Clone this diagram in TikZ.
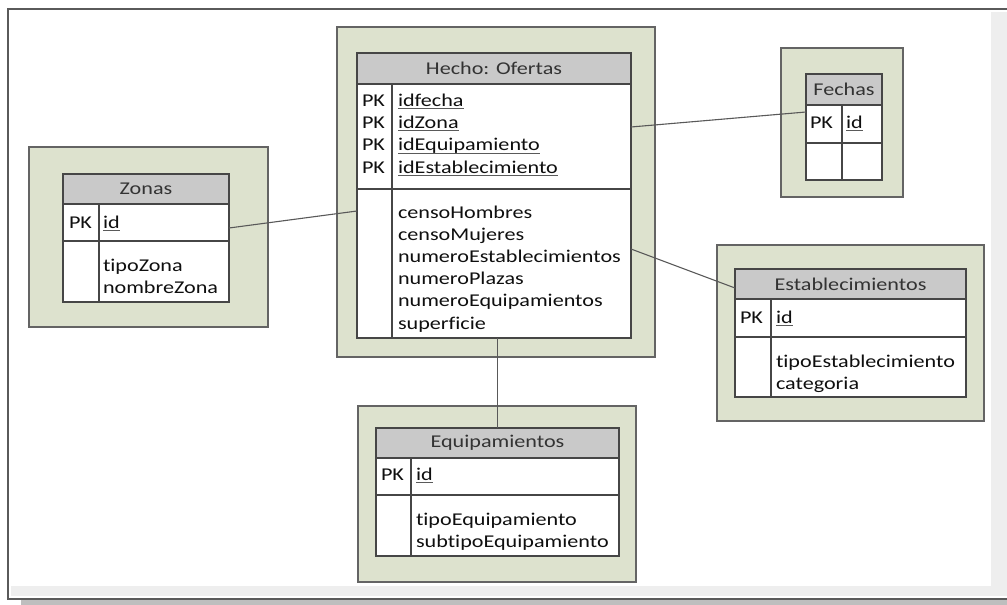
\documentclass[tikz,border=0pt]{standalone}
\usepackage{fontspec}
\newfontfamily\diafont[FakeStretch=1.23,Ligatures=NoCommon]{Carlito}
\definecolor{boxgreen}{RGB}{221,226,206}
\definecolor{boxedge}{RGB}{100,100,100}
\definecolor{tableedge}{RGB}{70,70,70}
\definecolor{headgray}{RGB}{201,201,201}
\definecolor{pagegray}{RGB}{238,238,238}
\definecolor{shadowgray}{RGB}{190,190,190}
\definecolor{framegray}{RGB}{90,90,90}
\definecolor{textdark}{RGB}{15,15,15}
\definecolor{ulgray}{RGB}{90,90,90}
% underlined key attribute, rule just below the baseline
\newcommand\keyattr[1]{\setbox0\hbox{#1}\rlap{\color{ulgray}\rule[-2.6pt]{\wd0}{0.9pt}}\box0}
% one text node per line, 22.2 units apart
\newcommand\fieldrows[4]{%
  \foreach \t [count=\i] in {#4}
    \node[fieldtxt] (#1\i) at (#2,{#3+(\i-1)*22.2}) {\t};}
\begin{document}
\begin{tikzpicture}[x=1pt,y=-1pt,
  outerbox/.style={draw=boxedge,fill=boxgreen,line width=1.2pt,anchor=north west,inner sep=0pt,outer sep=0pt},
  tablebox/.style={draw=tableedge,fill=white,line width=1.2pt,anchor=north west,inner sep=0pt,outer sep=0pt},
  headbox/.style={draw=tableedge,fill=headgray,line width=1.2pt,anchor=north west,inner sep=0pt,outer sep=0pt,
    font=\diafont\fontsize{18}{22}\selectfont,text=textdark!85},
  rule/.style={draw=tableedge,line width=1.2pt},
  fieldtxt/.style={anchor=base west,inner sep=0pt,outer sep=0pt,font=\diafont\fontsize{18}{22}\selectfont,text=textdark},
  link/.style={draw=tableedge!90,line width=1.1pt}]
\useasboundingbox (0,0) rectangle (1007,605);
\fill[white] (0,0) rectangle (1007,605);

% page edges
\fill[pagegray] (991,12) rectangle (1007,596);
\fill[pagegray] (11,586) rectangle (1007,596);
\fill[shadowgray] (21,600) rectangle (1007,605);
\draw[framegray,line width=2pt] (1007,9) -- (8,9) -- (8,599) -- (1007,599);

% ---- Hecho: Ofertas ----
\node[outerbox,minimum width=318pt,minimum height=330pt] (hechoO) at (337,27) {};
\node[tablebox,minimum width=274pt,minimum height=285pt] (hecho) at (357,53) {};
\node[headbox,minimum width=274pt,minimum height=31pt] (hechoH) at (357,53) {Hecho: Ofertas};
\draw[rule] (357,189) -- (631,189);
\draw[rule] (392,84) -- (392,338);
\fieldrows{hechoK}{362}{106.5}{PK,PK,PK,PK}
\fieldrows{hechoF}{398}{106.5}{{\keyattr{idfecha}},{\keyattr{idZona}},{\keyattr{idEquipamiento}},{\keyattr{idEstablecimiento}}}
\fieldrows{hechoA}{398}{218}{censoHombres,censoMujeres,numeroEstablecimientos,numeroPlazas,numeroEquipamientos,superficie}

% ---- Zonas ----
\node[outerbox,minimum width=239pt,minimum height=180pt] (zonasO) at (29,147) {};
\node[tablebox,minimum width=166pt,minimum height=128pt] (zonas) at (63,174) {};
\node[headbox,minimum width=166pt,minimum height=30pt] (zonasH) at (63,174) {Zonas};
\draw[rule] (63,241) -- (229,241);
\draw[rule] (99,204) -- (99,302);
\fieldrows{zonasK}{69}{228}{PK}
\fieldrows{zonasF}{103}{228}{{\keyattr{id}}}
\fieldrows{zonasA}{103}{271}{tipoZona,nombreZona}

% ---- Fechas ----
\node[outerbox,minimum width=122pt,minimum height=149pt] (fechasO) at (781,48) {};
\node[tablebox,minimum width=76pt,minimum height=106pt] (fechas) at (806,74) {};
\node[headbox,minimum width=76pt,minimum height=31pt] (fechasH) at (806,74) {Fechas};
\draw[rule] (806,143) -- (882,143);
\draw[rule] (842,105) -- (842,180);
\fieldrows{fechasK}{810}{128}{PK}
\fieldrows{fechasF}{846}{128}{{\keyattr{id}}}

% ---- Establecimientos ----
\node[outerbox,minimum width=267pt,minimum height=176pt] (estabO) at (717,245) {};
\node[tablebox,minimum width=231pt,minimum height=128pt] (estab) at (735,269) {};
\node[headbox,minimum width=231pt,minimum height=30pt] (estabH) at (735,269) {Establecimientos};
\draw[rule] (735,337) -- (966,337);
\draw[rule] (771,299) -- (771,397);
\fieldrows{estabK}{740}{323}{PK}
\fieldrows{estabF}{776}{323}{{\keyattr{id}}}
\fieldrows{estabA}{776}{367}{tipoEstablecimiento,categoria}

% ---- Equipamientos ----
\node[outerbox,minimum width=278pt,minimum height=176pt] (equipO) at (358,406) {};
\node[tablebox,minimum width=243pt,minimum height=128pt] (equip) at (376,428) {};
\node[headbox,minimum width=243pt,minimum height=30pt] (equipH) at (376,428) {Equipamientos};
\draw[rule] (376,495) -- (619,495);
\draw[rule] (411,458) -- (411,556);
\fieldrows{equipK}{381}{480}{PK}
\fieldrows{equipF}{416}{480}{{\keyattr{id}}}
\fieldrows{equipA}{416}{525}{tipoEquipamiento,subtipoEquipamiento}

% ---- relationships ----
\draw[link] ([yshift=-74pt]hecho.north east) -- ([yshift=-38pt]fechas.north west);
\draw[link] ([yshift=-158pt]hecho.north west) -- ([yshift=-54pt]zonas.north east);
\draw[link] ([yshift=-196pt]hecho.north east) -- ([yshift=-19pt]estab.north west);
\draw[link] (equip.north |- hecho.south) -- (equip.north);
\end{tikzpicture}
\end{document}
